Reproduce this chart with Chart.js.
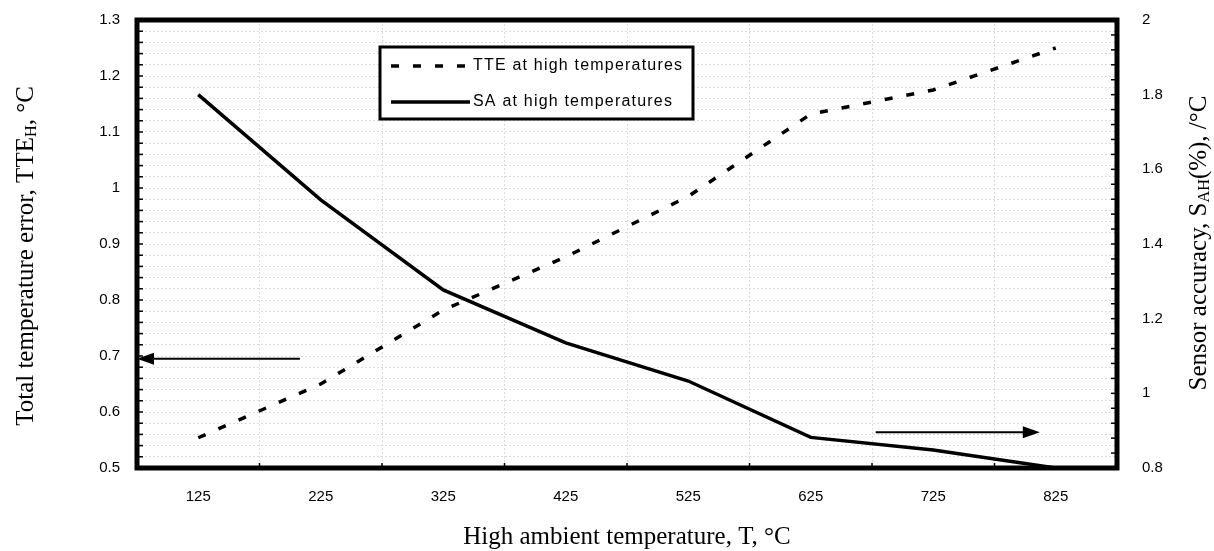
<!DOCTYPE html>
<html>
<head>
<meta charset="utf-8">
<script src="https://cdn.jsdelivr.net/npm/chart.js"></script>
<style>
  html, body { margin: 0; padding: 0; background: #fff; }
  #wrap { width: 1214px; height: 551px; }
</style>
</head>
<body>
<div id="wrap"><canvas id="tempChart" width="1214" height="551"></canvas></div>
<script>
// temperatures on the x axis
const temps = ["125", "225", "325", "425", "525", "625", "725", "825"];
// total temperature error (left axis)
const tteValues = [0.554, 0.65, 0.782, 0.877, 0.985, 1.132, 1.175, 1.25];
// sensor accuracy (right axis)
const saValues = [1.80, 1.518, 1.277, 1.135, 1.033, 0.882, 0.848, 0.80];

const serif = '"Liberation Serif", "Times New Roman", serif';
const sans = '"Liberation Sans", Arial, sans-serif';

// draws text with a lowered small part, e.g. TTE_H
function drawRich(ctx, parts, x, y, size) {
  let total = 0;
  parts.forEach((p) => {
    ctx.font = (p.sub ? size * 0.65 : size) + "px " + serif;
    total += ctx.measureText(p.t).width;
  });
  let cx = x - total / 2;
  parts.forEach((p) => {
    ctx.font = (p.sub ? size * 0.65 : size) + "px " + serif;
    ctx.fillText(p.t, cx, p.sub ? y + size * 0.22 : y);
    cx += ctx.measureText(p.t).width;
  });
}

function arrow(ctx, x1, y1, x2, y2) {
  const dir = Math.sign(x2 - x1);
  ctx.beginPath();
  ctx.moveTo(x1, y1);
  ctx.lineTo(x2 - dir * 12, y2);
  ctx.stroke();
  ctx.beginPath();
  ctx.moveTo(x2, y2);
  ctx.lineTo(x2 - dir * 17, y2 - 6);
  ctx.lineTo(x2 - dir * 17, y2 + 6);
  ctx.closePath();
  ctx.fill();
}

const decorPlugin = {
  id: "decor",
  afterDraw(chart) {
    const ctx = chart.ctx;
    const a = chart.chartArea;
    const x = chart.scales.x, y = chart.scales.y, y2 = chart.scales.y2;
    ctx.save();
    ctx.strokeStyle = "#000";
    ctx.fillStyle = "#000";

    // inward tick marks
    ctx.lineWidth = 1.5;
    y.ticks.forEach((t) => {
      const py = y.getPixelForValue(t.value);
      ctx.beginPath(); ctx.moveTo(a.left, py); ctx.lineTo(a.left + 6, py); ctx.stroke();
    });
    y2.ticks.forEach((t) => {
      const py = y2.getPixelForValue(t.value);
      ctx.beginPath(); ctx.moveTo(a.right, py); ctx.lineTo(a.right - 6, py); ctx.stroke();
    });
    for (let i = 0; i < temps.length - 1; i++) {
      const px = x.getPixelForValue(i + 0.5);
      ctx.beginPath(); ctx.moveTo(px, a.bottom); ctx.lineTo(px, a.bottom - 5); ctx.stroke();
    }

    // frame
    ctx.lineWidth = 5;
    ctx.strokeRect(a.left, a.top, a.right - a.left, a.bottom - a.top);

    // arrows pointing at the axes
    ctx.lineWidth = 2;
    const ly = y.getPixelForValue(0.695);
    arrow(ctx, x.getPixelForValue(0.83), ly, a.left, ly);
    const ry = y2.getPixelForValue(0.896);
    arrow(ctx, x.getPixelForValue(5.53), ry, x.getPixelForValue(6.87), ry);

    // legend
    const lx = a.left + 243, lt = a.top + 27, lw = 313, lh = 72;
    ctx.fillStyle = "#fff";
    ctx.fillRect(lx, lt, lw, lh);
    ctx.lineWidth = 3;
    ctx.strokeRect(lx, lt, lw, lh);
    ctx.fillStyle = "#000";
    ctx.font = "16px " + sans;
    ctx.textBaseline = "middle";
    ctx.textAlign = "left";
    chart.data.datasets.forEach((ds, i) => {
      const rowY = lt + 19 + i * 36;
      ctx.lineWidth = 3.5;
      ctx.setLineDash(ds.borderDash || []);
      ctx.beginPath(); ctx.moveTo(lx + 11, rowY); ctx.lineTo(lx + 90, rowY); ctx.stroke();
      ctx.setLineDash([]);
      ctx.letterSpacing = "1.2px";
      ctx.fillText(ds.label, lx + 93, rowY);
      ctx.letterSpacing = "0px";
    });

    // axis titles
    ctx.textBaseline = "middle";
    ctx.save();
    ctx.translate(26, 256);
    ctx.rotate(-Math.PI / 2);
    drawRich(ctx, [{ t: "Total temperature error, TTE" }, { t: "H", sub: true }, { t: ", \u00B0C" }], 0, 0, 25);
    ctx.restore();
    ctx.save();
    ctx.translate(1199, 243);
    ctx.rotate(-Math.PI / 2);
    drawRich(ctx, [{ t: "Sensor accuracy, S" }, { t: "AH", sub: true }, { t: "(%), /\u00B0C" }], 0, 0, 25);
    ctx.restore();
    drawRich(ctx, [{ t: "High ambient temperature, T, \u00B0C" }], (a.left + a.right) / 2, 537, 25);
    ctx.restore();
  },
};

const gridColor = "#dcdcdc";

const config = {
  type: "line",
  data: {
    labels: temps,
    datasets: [
      {
        label: "TTE at high temperatures",
        data: tteValues,
        yAxisID: "y",
        borderColor: "#000",
        borderWidth: 3.5,
        borderDash: [8, 14],
        pointRadius: 0,
        tension: 0,
        fill: false,
      },
      {
        label: "SA at high temperatures",
        data: saValues,
        yAxisID: "y2",
        borderColor: "#000",
        borderWidth: 3.5,
        pointRadius: 0,
        tension: 0,
        fill: false,
      },
    ],
  },
  options: {
    responsive: false,
    animation: false,
    layout: { padding: { top: 20, left: 0, right: 0, bottom: 0 } },
    plugins: {
      legend: { display: false },
      tooltip: { enabled: false },
    },
    scales: {
      x: {
        type: "category",
        offset: true,
        // invisible tick marks are used only to push the labels away from the frame
        grid: { offset: true, color: gridColor, lineWidth: 1, drawTicks: true, tickLength: 20, tickColor: "rgba(0,0,0,0)" },
        border: { display: false, dash: [2, 2] },
        ticks: { color: "#000", font: { family: sans, size: 15 }, padding: 0, autoSkip: false, maxRotation: 0 },
        afterFit: (s) => { s.height = 83; },
      },
      y: {
        position: "left",
        min: 0.5,
        max: 1.3,
        grid: { color: gridColor, lineWidth: 1, drawTicks: true, tickLength: 17, tickColor: "rgba(0,0,0,0)" },
        border: { display: false, dash: [2, 2] },
        ticks: {
          stepSize: 0.02,
          autoSkip: false,
          color: "#000",
          font: { family: sans, size: 15 },
          padding: 0,
          callback: (v) => (Math.round(v * 100) % 10 === 0 ? String(Number(v.toFixed(1))) : ""),
        },
        afterFit: (s) => { s.width = 137; },
      },
      y2: {
        position: "right",
        min: 0.8,
        max: 2,
        grid: { drawOnChartArea: false, drawTicks: true, tickLength: 25, tickColor: "rgba(0,0,0,0)" },
        border: { display: false },
        ticks: {
          stepSize: 0.04,
          autoSkip: false,
          color: "#000",
          font: { family: sans, size: 15 },
          padding: 0,
          callback: (v) => (Math.round(v * 100) % 20 === 0 ? String(Number(v.toFixed(1))) : ""),
        },
        afterFit: (s) => { s.width = 97; },
      },
    },
  },
  plugins: [decorPlugin],
};

window.onload = function () {
  const ctx = document.getElementById("tempChart").getContext("2d");
  window.tempChart = new Chart(ctx, config);
};
</script>
</body>
</html>
